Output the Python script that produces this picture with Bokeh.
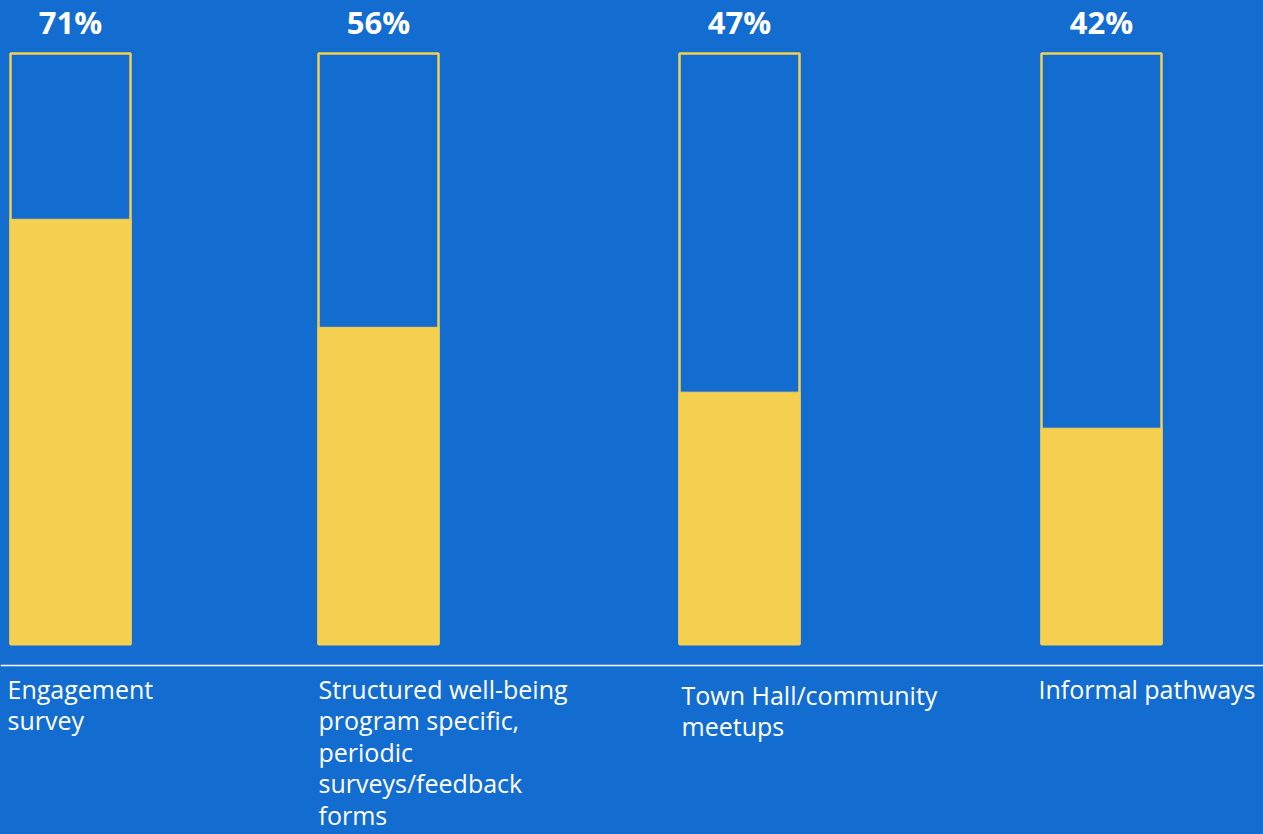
from bokeh.plotting import figure
from bokeh.models import Range1d, Span, ColumnDataSource
from bokeh.core.properties import value
from bokeh.embed import file_html
from bokeh.resources import INLINE

# ---- data ----
categories = [
    "Engagement\nsurvey",
    "Structured well-being\nprogram specific,\nperiodic\nsurveys/feedback\nforms",
    "Town Hall/community\nmeetups",
    "Informal pathways",
]
shares = [71, 56, 47, 42]
share_labels = ["71%", "56%", "47%", "42%"]

# ---- layout / style ----
BLUE = "#136DD1"
YELLOW = "#F4CF50"
W, H = 1263, 834
centers = [70, 378, 739, 1101]
bar_w = 121
label_x = [7, 318, 681, 1038]
base, cap = 12, 94          # visual floor and top of the outlined boxes
label_dy = [0, 0, 6, 0]     # extra pixel offset of category labels
Y0, Y1 = -14.40, 101.37


def y_at(px):
    """data y for a pixel offset from the top of the plot"""
    return Y1 - px * (Y1 - Y0) / H


src = ColumnDataSource(dict(
    x=centers,
    share=shares,
    lab=share_labels,
    cat=categories,
    left=label_x,
    cat_y=[y_at(671 + d) for d in label_dy],
    pct_y=[y_at(21)] * len(centers),
))

p = figure(width=W, height=H, output_backend="svg", toolbar_location=None,
           x_range=Range1d(0, W), y_range=Range1d(Y0, Y1),
           x_axis_type=None, y_axis_type=None, min_border=0,
           background_fill_color=BLUE, border_fill_color=BLUE)
p.outline_line_color = None
p.grid.visible = False

# filled part
p.vbar(x="x", top="share", bottom=base, width=bar_w, source=src,
       fill_color=YELLOW, line_color=YELLOW, line_width=1)
# outline box
p.vbar(x="x", top=cap, bottom=base, width=bar_w - 1, source=src,
       fill_color=None, line_color=YELLOW, line_width=2.5)

# baseline rule
p.add_layout(Span(location=y_at(665), dimension="width",
                  line_color="white", line_width=1.5))

# percentage labels
p.text(x="x", y="pct_y", text="lab", source=src, text_color="white",
       text_font=value("Open Sans"), text_font_size="31px",
       text_font_style="bold", text_align="center",
       text_baseline="alphabetic")

# category labels
p.text(x="left", y="cat_y", text="cat", source=src, text_color="white",
       text_font=value("Open Sans"), text_font_size="25px",
       text_align="left", text_baseline="top", text_line_height=0.93)

html = file_html(p, INLINE)
html = html.replace("<body>", '<body style="background:%s;">' % BLUE)
open("out.html", "w").write(html)
